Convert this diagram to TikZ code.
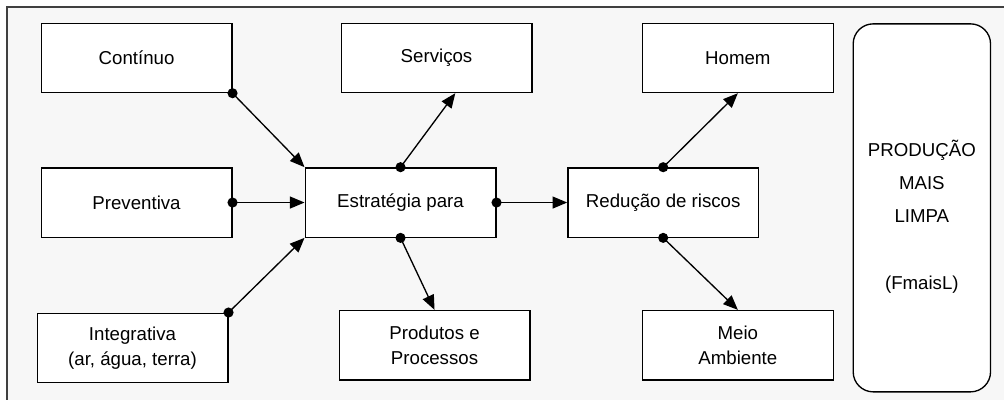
\documentclass[tikz,border=0pt]{standalone}
\usepackage{fontspec}
\setmainfont{Liberation Sans}
\usetikzlibrary{positioning, arrows.meta}

\begin{document}
\begin{tikzpicture}[>={Triangle[length = 11pt, width = 9pt]}]
    \tikzset{BoxStyle/.style   = {shape          = rectangle,
                                  draw,
                                  fill           = white,
                                  line width     = 1pt,
                                  minimum width  = 143pt,
                                  minimum height = 52pt,
                                  align          = center,
                                  font           = \fontsize{14}{19}\selectfont}}
    \tikzset{FinalStyle/.style = {BoxStyle,
                                  rounded corners = 15pt,
                                  minimum width   = 103pt,
                                  minimum height  = 276pt}}
    \tikzset{TextStyle/.style  = {align          = center,
                                  font           = \fontsize{14}{19}\selectfont}}
    \tikzset{LinkStyle/.style  = {->,
                                  line width     = 1pt}}
    \tikzset{DotStyle/.style   = {fill           = black}}
    \useasboundingbox (-300.4pt,-148.1pt) rectangle (452.6pt,151.9pt);
    \fill[white!97!black] (-295.1pt,-148.1pt) rectangle (452.6pt,146.6pt);
    \draw[line width = 1.5pt, black!75] (-295.1pt,-148.1pt) -- (-295.1pt,146.6pt) -- (452.6pt,146.6pt);
    \node[BoxStyle] (estr) at (0,0) {Estratégia para};
    \node[BoxStyle, left  = 54pt of estr]                   (prev)  {Preventiva};
    \node[BoxStyle, above = 55.5pt of prev]                 (cont)  {Contínuo};
    \node[BoxStyle, below = 56pt of prev, xshift = -3pt]    (integ) {Integrativa\\(ar, água, terra)};
    \node[BoxStyle, above = 55.5pt of estr, xshift = 27pt]  (serv)  {Serviços};
    \node[BoxStyle, below = 54pt of estr, xshift = 25.5pt]  (prod)  {Produtos e\\Processos};
    \node[BoxStyle, right = 53pt of estr]                   (red)   {Redução de riscos};
    \node[BoxStyle, above = 55.5pt of red, xshift = 56pt]   (hom)   {Homem};
    \node[BoxStyle, below = 54pt of red, xshift = 56pt]     (meio)  {Meio\\Ambiente};
    \node[FinalStyle, right = 70pt of red, yshift = -4pt]   (pml)   {};
    \node[TextStyle] (pmltext) at ([yshift = -6.5pt]pml.center)
        {PRODUÇÃO\\[6pt]MAIS\\[6pt]LIMPA\\[6pt]\\[6pt](FmaisL)};
    % inputs
    \draw[LinkStyle] (cont.south east) -- (estr.north west);
    \draw[LinkStyle] (prev.east)       -- (estr.west);
    \draw[LinkStyle] (integ.north east) -- (estr.south west);
    % outputs
    \draw[LinkStyle] (estr.north) -- (serv.-62);
    \draw[LinkStyle] (estr.south) -- (prod.north);
    \draw[LinkStyle] (estr.east)  -- (red.west);
    \draw[LinkStyle] (red.north)  -- (hom.south);
    \draw[LinkStyle] (red.south)  -- (meio.north);
    \foreach \p in {cont.south east, prev.east, integ.north east,
                    estr.north, estr.south, estr.east, red.north, red.south}
        \fill[DotStyle] (\p) circle (3.8pt);
\end{tikzpicture}
\end{document}
